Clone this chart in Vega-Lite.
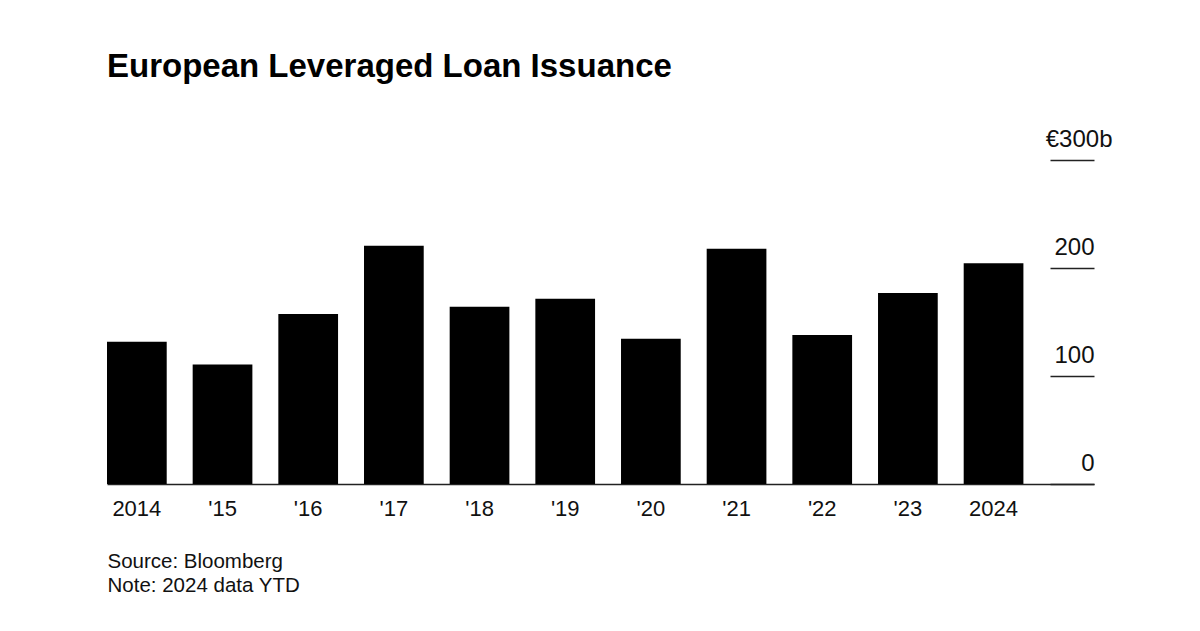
{
  "$schema": "https://vega.github.io/schema/vega-lite/v6.json",
  "width": 987,
  "height": 324,
  "autosize": {"type": "none"},
  "padding": {"left": 107, "top": 160, "right": 106, "bottom": 147},
  "background": "white",
  "title": {
    "text": "European Leveraged Loan Issuance",
    "anchor": "start",
    "frame": "group",
    "font": "Liberation Sans",
    "fontSize": 33,
    "fontWeight": "bold",
    "color": "#000000",
    "offset": 43
  },
  "data": {
    "values": [
      {"year": "2014", "issuance": 131.8},
      {"year": "'15", "issuance": 110.6},
      {"year": "'16", "issuance": 157.4},
      {"year": "'17", "issuance": 220.7},
      {"year": "'18", "issuance": 164.2},
      {"year": "'19", "issuance": 171.6},
      {"year": "'20", "issuance": 134.5},
      {"year": "'21", "issuance": 217.9},
      {"year": "'22", "issuance": 138.0},
      {"year": "'23", "issuance": 176.9},
      {"year": "2024", "issuance": 204.3}
    ]
  },
  "mark": {"type": "bar", "color": "#000000"},
  "encoding": {
    "x": {
      "field": "year",
      "type": "nominal",
      "sort": null,
      "scale": {"paddingInner": 0.303, "paddingOuter": 0.412, "align": 0},
      "axis": {
        "title": ["Source: Bloomberg", "Note: 2024 data YTD"],
        "titleAnchor": "start",
        "titleAlign": "left",
        "titleBaseline": "top",
        "titleFont": "Liberation Sans",
        "titleFontSize": 20.5,
        "titleFontWeight": "normal",
        "titleColor": "#111111",
        "titleLineHeight": 24,
        "titlePadding": 32,
        "labelAngle": 0,
        "labelFont": "Liberation Sans",
        "labelFontSize": 22,
        "labelColor": "#111111",
        "labelPadding": 14,
        "ticks": false,
        "domainColor": "#222222",
        "domainWidth": 1.5
      }
    },
    "y": {
      "field": "issuance",
      "type": "quantitative",
      "scale": {"domain": [0, 300]},
      "axis": {
        "orient": "right",
        "title": null,
        "values": [0, 100, 200, 300],
        "labelExpr": "datum.value == 300 ? '€300b' : datum.label",
        "grid": false,
        "domain": false,
        "offset": -44,
        "tickSize": 44,
        "tickColor": "#222222",
        "tickWidth": 1.5,
        "labelAlign": "right",
        "labelBaseline": "alphabetic",
        "labelOffset": -14,
        "labelPadding": {"condition": {"test": "datum.value == 300", "value": 18}, "value": 0},
        "labelFont": "Liberation Sans",
        "labelFontSize": 24,
        "labelColor": "#111111"
      }
    }
  },
  "config": {"view": {"stroke": null}}
}
